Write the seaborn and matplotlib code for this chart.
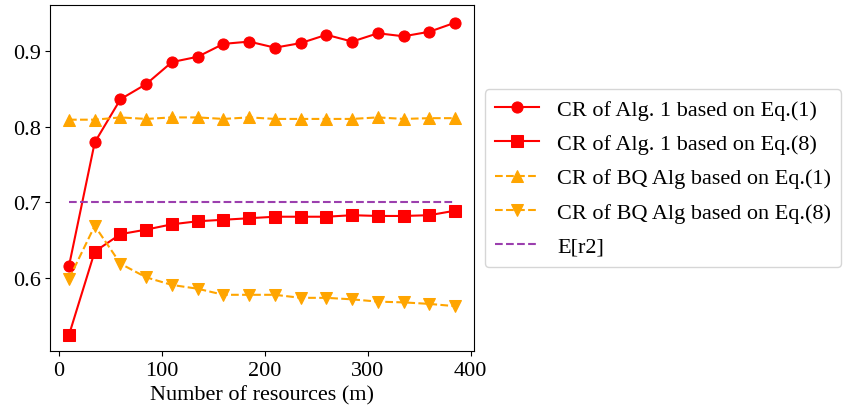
import pandas as pd
import matplotlib.pyplot as plt
import seaborn as sns

plt.rcParams['font.family'] = ['Liberation Serif', 'DejaVu Serif']

# Number of resources
m = [10, 35, 60, 85, 110, 135, 160, 185, 210, 235, 260, 285, 310, 335, 360, 385]

alg1_eq1 = [0.616, 0.779, 0.836, 0.856, 0.885, 0.892, 0.909, 0.912, 0.904, 0.910,
            0.921, 0.912, 0.923, 0.919, 0.925, 0.937]
alg1_eq8 = [0.525, 0.635, 0.658, 0.664, 0.671, 0.675, 0.677, 0.679, 0.681, 0.681,
            0.681, 0.683, 0.682, 0.682, 0.683, 0.689]
bq_eq1 = [0.809, 0.809, 0.812, 0.810, 0.812, 0.812, 0.810, 0.812, 0.810, 0.810,
          0.810, 0.810, 0.812, 0.810, 0.811, 0.811]
bq_eq8 = [0.599, 0.669, 0.619, 0.601, 0.591, 0.586, 0.578, 0.578, 0.578, 0.574,
          0.574, 0.572, 0.569, 0.568, 0.566, 0.563]
e_r2 = [0.70] * len(m)

df = pd.DataFrame({'m': m, 'a1': alg1_eq1, 'a8': alg1_eq8,
                   'b1': bq_eq1, 'b8': bq_eq8, 'e': e_r2})

fig, ax = plt.subplots(figsize=(8.55, 4.14), dpi=100)

sns.lineplot(data=df, x='m', y='a1', color='red', marker='o', markersize=8,
             markeredgecolor='red', label='CR of Alg. 1 based on Eq.(1)', ax=ax)
sns.lineplot(data=df, x='m', y='a8', color='red', marker='s', markersize=8,
             markeredgecolor='red', label='CR of Alg. 1 based on Eq.(8)', ax=ax)
sns.lineplot(data=df, x='m', y='b1', color='orange', marker='^', markersize=8,
             markeredgecolor='orange', linestyle='--', label='CR of BQ Alg based on Eq.(1)', ax=ax)
sns.lineplot(data=df, x='m', y='b8', color='orange', marker='v', markersize=8,
             markeredgecolor='orange', linestyle='--', label='CR of BQ Alg based on Eq.(8)', ax=ax)
sns.lineplot(data=df, x='m', y='e', color='#9b3fae', linestyle='--',
             label='E[r2]', ax=ax)

ax.set_xlim(-8, 403)
ax.set_ylim(0.504, 0.96)
ax.set_xticks([0, 100, 200, 300, 400])
ax.set_yticks([0.6, 0.7, 0.8, 0.9])
ax.set_xlabel('Number of resources (m)', fontsize=16)
ax.set_ylabel('')
ax.tick_params(labelsize=16)

ax.legend(loc='center left', bbox_to_anchor=(1.0, 0.5), fontsize=16,
          borderpad=0.45, handletextpad=0.8, labelspacing=0.62)

plt.subplots_adjust(left=0.059, right=0.554, top=0.985, bottom=0.15)
plt.savefig('out.png', dpi=100)
